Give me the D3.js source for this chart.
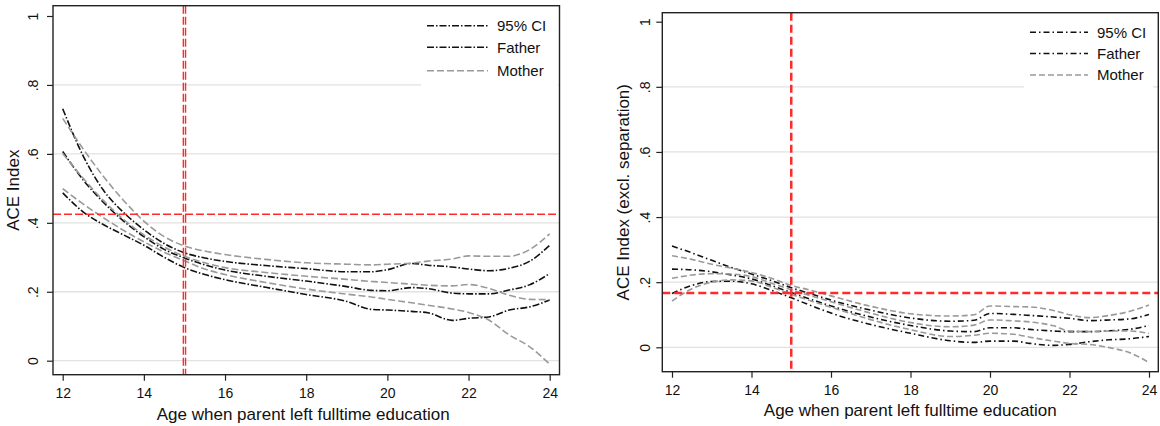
<!DOCTYPE html>
<html><head><meta charset="utf-8">
<script src="https://cdn.jsdelivr.net/npm/d3@7"></script>
<style>
html,body{margin:0;padding:0;background:#fff;}
svg{display:block;font-family:"Liberation Sans",Arial,Helvetica,sans-serif;}
</style></head>
<body>
<svg id="chart" width="1160" height="426"></svg>
<script>
// ---------- data ----------
const ages = [12, 12.5, 13, 13.5, 14, 14.5, 15, 15.5, 16, 17, 18, 19, 19.6, 20, 20.6, 21, 21.6, 22, 22.5, 23, 23.5, 24];

// Left panel: ACE Index
const fatherUpperL = [0.731, 0.595, 0.495, 0.43, 0.38, 0.34, 0.313, 0.298, 0.288, 0.276, 0.267, 0.258, 0.258, 0.264, 0.282, 0.277, 0.272, 0.266, 0.261, 0.268, 0.288, 0.335];
const fatherEstL   = [0.607, 0.525, 0.46, 0.405, 0.36, 0.323, 0.298, 0.278, 0.263, 0.245, 0.231, 0.215, 0.204, 0.203, 0.212, 0.209, 0.196, 0.194, 0.194, 0.205, 0.22, 0.253];
const fatherLowerL = [0.487, 0.432, 0.395, 0.365, 0.335, 0.3, 0.27, 0.25, 0.235, 0.213, 0.192, 0.172, 0.149, 0.147, 0.143, 0.139, 0.117, 0.123, 0.127, 0.147, 0.156, 0.176];
const motherUpperL = [0.703, 0.615, 0.535, 0.465, 0.405, 0.36, 0.333, 0.318, 0.308, 0.294, 0.284, 0.28, 0.278, 0.28, 0.283, 0.289, 0.295, 0.304, 0.303, 0.303, 0.322, 0.368];
const motherEstL   = [0.601, 0.53, 0.465, 0.41, 0.365, 0.33, 0.303, 0.284, 0.27, 0.256, 0.245, 0.236, 0.23, 0.227, 0.222, 0.219, 0.217, 0.221, 0.21, 0.19, 0.178, 0.177];
const motherLowerL = [0.499, 0.455, 0.415, 0.378, 0.345, 0.315, 0.29, 0.266, 0.25, 0.227, 0.208, 0.193, 0.185, 0.178, 0.168, 0.161, 0.15, 0.14, 0.118, 0.075, 0.041, -0.01];

// Right panel: ACE Index (excl. separation)
const fatherUpperR = [0.311, 0.29, 0.267, 0.245, 0.225, 0.205, 0.183, 0.164, 0.145, 0.114, 0.09, 0.08, 0.083, 0.104, 0.101, 0.098, 0.093, 0.089, 0.082, 0.084, 0.087, 0.101];
const fatherEstR   = [0.24, 0.238, 0.232, 0.222, 0.21, 0.19, 0.168, 0.147, 0.127, 0.093, 0.067, 0.05, 0.048, 0.06, 0.06, 0.055, 0.05, 0.048, 0.048, 0.051, 0.055, 0.067];
const fatherLowerR = [0.165, 0.19, 0.202, 0.203, 0.195, 0.175, 0.152, 0.128, 0.105, 0.07, 0.043, 0.02, 0.015, 0.019, 0.019, 0.012, 0.006, 0.009, 0.017, 0.023, 0.026, 0.033];
const motherUpperR = [0.281, 0.27, 0.255, 0.243, 0.23, 0.212, 0.19, 0.175, 0.158, 0.126, 0.103, 0.096, 0.1, 0.127, 0.125, 0.124, 0.113, 0.1, 0.091, 0.098, 0.11, 0.13];
const motherEstR   = [0.212, 0.222, 0.226, 0.225, 0.217, 0.197, 0.177, 0.158, 0.14, 0.105, 0.076, 0.063, 0.068, 0.084, 0.081, 0.078, 0.066, 0.05, 0.048, 0.05, 0.05, 0.043];
const motherLowerR = [0.142, 0.18, 0.2, 0.207, 0.204, 0.185, 0.163, 0.142, 0.123, 0.085, 0.054, 0.033, 0.037, 0.043, 0.04, 0.031, 0.019, 0.012, 0.009, -0.001, -0.016, -0.047];

const xTicks = [12, 14, 16, 18, 20, 22, 24];
const yTicks = [0, 0.2, 0.4, 0.6, 0.8, 1];
const yTickLabels = ["0", ".2", ".4", ".6", ".8", "1"];
const legendLabels = ["95% CI", "Father", "Mother"];
const refAge = 15;
const refLevelL = 0.425;
const refLevelR = 0.167;
const xTitle = "Age when parent left fulltime education";
const yTitleL = "ACE Index";
const yTitleR = "ACE Index (excl. separation)";

// ---------- drawing ----------
const svg = d3.select("#chart");
const FONT = '"Liberation Sans", Arial, Helvetica, sans-serif';

function panel(cfg) {
  const g = svg.append("g");
  const x = d3.scaleLinear().domain([12, 24]).range(cfg.xr);
  const y = d3.scaleLinear().domain([0, 1]).range(cfg.yr);
  const f = cfg.frame; // [x0,y0,x1,y1]

  // gridlines
  g.append("g").selectAll("line").data(yTicks.filter(v => v < 1)).join("line")
    .attr("x1", f[0]).attr("x2", f[2])
    .attr("y1", d => y(d)).attr("y2", d => y(d))
    .attr("stroke", "#e2e2e2").attr("stroke-width", 1.3);

  // legend background (covers gridlines)
  g.append("rect").attr("x", cfg.legBox[0]).attr("y", cfg.legBox[1])
    .attr("width", cfg.legBox[2]).attr("height", cfg.legBox[3]).attr("fill", "#fff");

  // curves
  const line = d3.line().x(d => x(d[0])).y(d => y(d[1])).curve(d3.curveMonotoneX);
  const mk = arr => ages.map((a, i) => [a, arr[i]]);
  const black = {stroke: "#111", dash: cfg.blackDash};
  const grey = {stroke: "#9a9a9a", dash: cfg.greyDash};
  cfg.series.forEach(s => {
    const st = s.kind === "f" ? black : grey;
    g.append("path").attr("d", line(mk(s.values)))
      .attr("fill", "none").attr("stroke", st.stroke)
      .attr("stroke-width", cfg.lw).attr("stroke-dasharray", st.dash);
  });

  // reference lines
  const rc = "#ff2a2a";
  g.append("line").attr("x1", f[0]).attr("x2", f[2])
    .attr("y1", y(cfg.refLevel)).attr("y2", y(cfg.refLevel))
    .attr("stroke", rc).attr("stroke-width", cfg.refW).attr("stroke-dasharray", cfg.refDash);
  cfg.vOffsets.forEach(o => {
    g.append("line").attr("x1", x(refAge) + o).attr("x2", x(refAge) + o)
      .attr("y1", f[1]).attr("y2", f[3])
      .attr("stroke", rc).attr("stroke-width", cfg.refW).attr("stroke-dasharray", cfg.refDash);
  });

  // frame
  g.append("rect").attr("x", f[0]).attr("y", f[1])
    .attr("width", f[2] - f[0]).attr("height", f[3] - f[1])
    .attr("fill", "none").attr("stroke", "#222").attr("stroke-width", 1.4);

  // y axis
  const ya = g.append("g").attr("transform", `translate(${f[0]},0)`)
    .call(d3.axisLeft(y).tickValues(yTicks).tickSize(6).tickFormat((d, i) => yTickLabels[i]));
  ya.select(".domain").remove();
  ya.selectAll(".tick line").attr("stroke", "#222").attr("stroke-width", 1.2);
  ya.selectAll(".tick text")
    .attr("x", null).attr("dy", null).attr("y", null)
    .attr("transform", `translate(${cfg.yLabX - f[0]},0) rotate(-90)`)
    .attr("text-anchor", "middle")
    .attr("font-family", FONT).attr("font-size", 14).attr("fill", "#111");

  // x axis
  const xa = g.append("g").attr("transform", `translate(0,${f[3]})`)
    .call(d3.axisBottom(x).tickValues(xTicks).tickSize(6).tickFormat(d3.format("d")));
  xa.select(".domain").remove();
  xa.selectAll(".tick line").attr("stroke", "#222").attr("stroke-width", 1.2);
  xa.selectAll(".tick text").attr("dy", null).attr("y", cfg.xLabDy)
    .attr("font-family", FONT).attr("font-size", 14).attr("fill", "#111");

  // axis titles
  g.append("text").attr("x", (f[0] + f[2]) / 2 + cfg.xTitleShift).attr("y", cfg.xTitleY)
    .attr("text-anchor", "middle").attr("font-family", FONT).attr("font-size", 17).attr("fill", "#111")
    .text(xTitle);
  g.append("text").attr("transform", `translate(${cfg.yTitleX},${(f[1] + f[3]) / 2}) rotate(-90)`)
    .attr("text-anchor", "middle").attr("font-family", FONT).attr("font-size", 17).attr("fill", "#111")
    .text(cfg.yTitle);

  // legend
  const leg = g.append("g");
  legendLabels.forEach((lab, i) => {
    const yy = cfg.legY[i];
    const st = i < 2 ? black : grey;
    leg.append("line").attr("x1", cfg.legX[0]).attr("x2", cfg.legX[1])
      .attr("y1", yy).attr("y2", yy).attr("stroke", st.stroke)
      .attr("stroke-width", cfg.lw).attr("stroke-dasharray", st.dash);
    leg.append("text").attr("x", cfg.legX[2]).attr("y", yy + 5.3)
      .attr("font-family", FONT).attr("font-size", 15).attr("fill", "#111").text(lab);
  });
}

panel({
  xr: [62.7, 549.7], yr: [360.7, 16], frame: [53, 5.7, 559.5, 374.7],
  legBox: [421, 7, 137, 82],
  series: [
    {kind: "f", values: fatherUpperL}, {kind: "f", values: fatherEstL}, {kind: "f", values: fatherLowerL},
    {kind: "m", values: motherUpperL}, {kind: "m", values: motherEstL}, {kind: "m", values: motherLowerL}
  ],
  blackDash: "7,2,1.5,2", greyDash: "7,3", lw: 1.6,
  refLevel: refLevelL, refW: 1.4, refDash: "8,3", vOffsets: [-1.1, 1.1],
  yLabX: 38, xLabDy: 23.8, xTitleY: 419.5, xTitleShift: -3, yTitleX: 18.6, yTitle: yTitleL,
  legX: [427, 488, 497], legY: [25.7, 47.2, 70.8]
});

panel({
  xr: [672, 1149], yr: [347.3, 21.7], frame: [662.3, 12.7, 1158.3, 371.7],
  legBox: [1024, 14, 129, 80],
  series: [
    {kind: "f", values: fatherUpperR}, {kind: "f", values: fatherEstR}, {kind: "f", values: fatherLowerR},
    {kind: "m", values: motherUpperR}, {kind: "m", values: motherEstR}, {kind: "m", values: motherLowerR}
  ],
  blackDash: "6,3,1.5,3", greyDash: "6,3", lw: 1.6,
  refLevel: refLevelR, refW: 2.5, refDash: "8,4", vOffsets: [0],
  yLabX: 650, xLabDy: 23.3, xTitleY: 416, xTitleShift: 0, yTitleX: 629, yTitle: yTitleR,
  legX: [1030, 1088, 1097], legY: [32.3, 53.5, 75]
});
</script>
</body></html>
